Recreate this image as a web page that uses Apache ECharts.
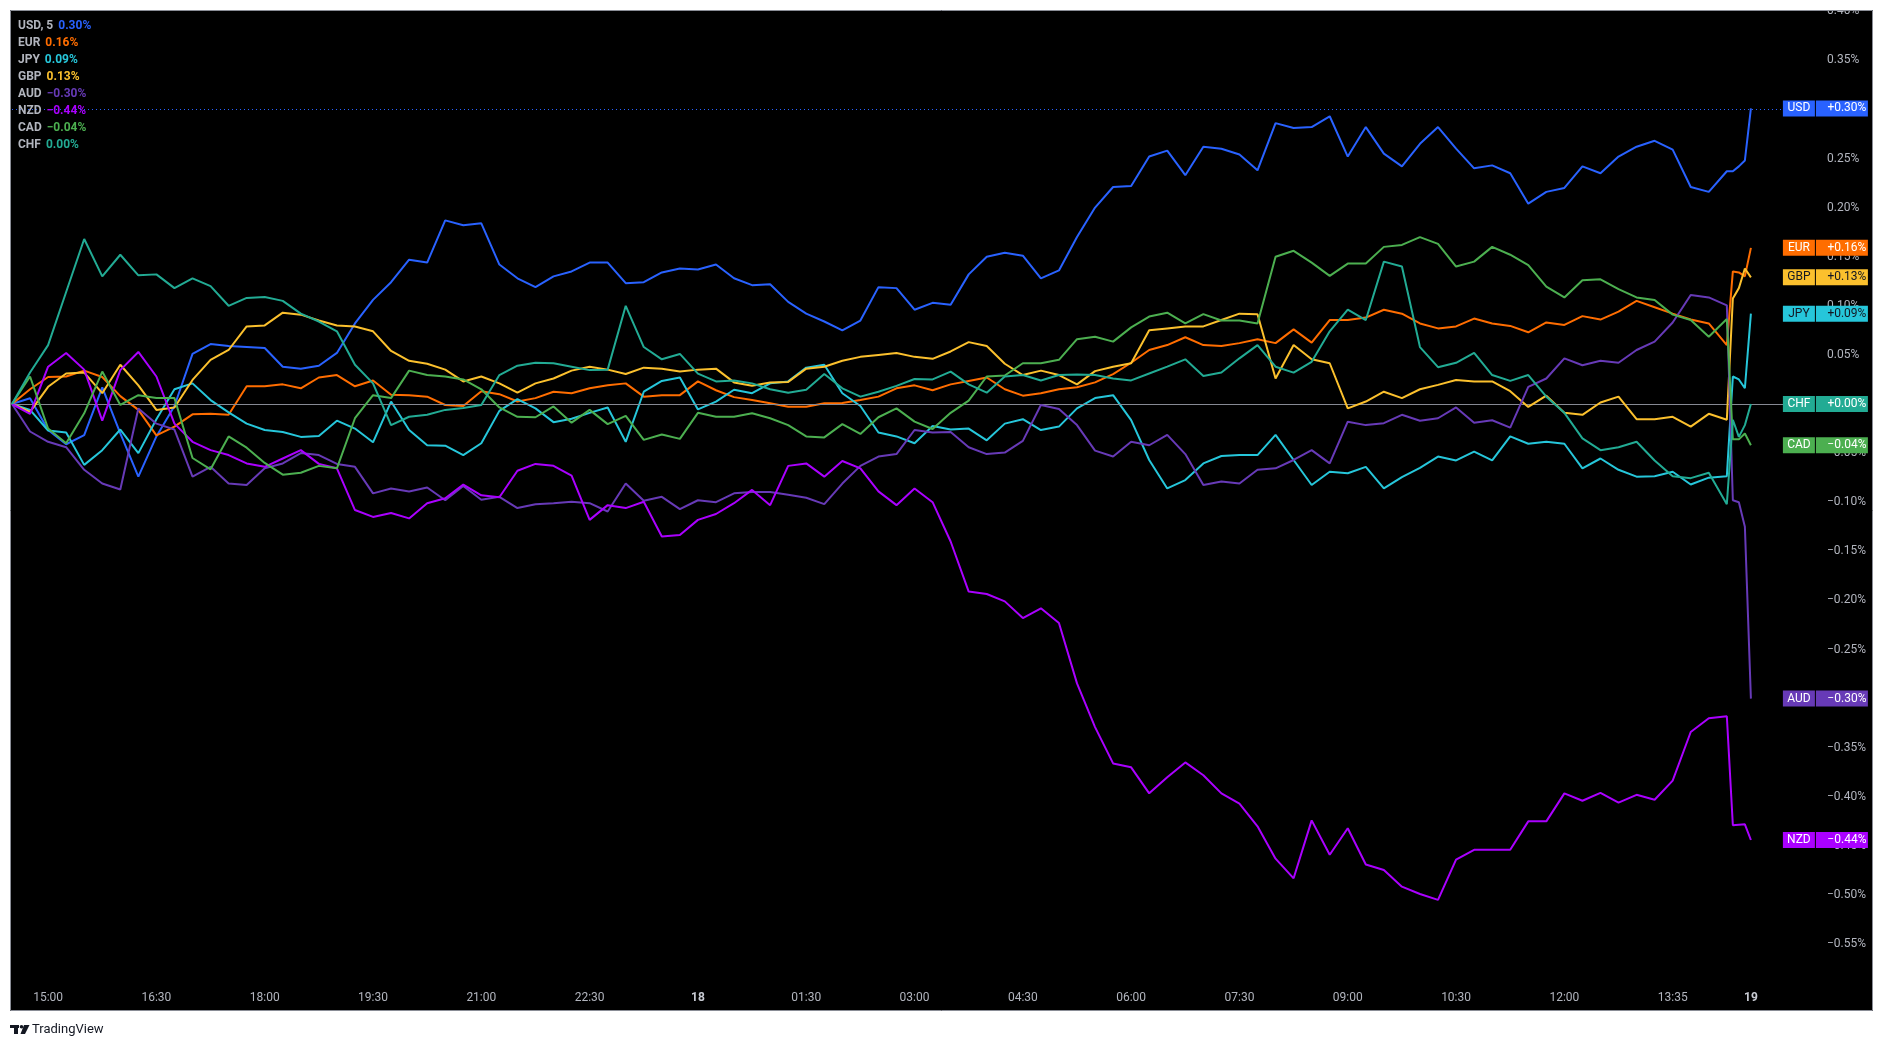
<!DOCTYPE html>
<html>
<head>
<meta charset="utf-8">
<title>Currency strength comparison</title>
<script src="https://cdn.jsdelivr.net/npm/echarts@6/dist/echarts.min.js"></script>
<style>
html,body{margin:0;padding:0;background:#ffffff;}
#chart{width:1884px;height:1047px;}
</style>
</head>
<body>
<div id="chart"></div>
<script>
// ---- time axis: 5-minute bar index of each sample (one sample per 15 min, last 4 bars after the gap) ----
const sampleBars = [];
for (let b = 0; b <= 285; b += 3) sampleBars.push(b);
sampleBars.push(286, 287, 288, 289);

// tick labels of the time axis and the bar index where they sit
const tickBars   = [6, 24, 42, 60, 78, 96, 114, 132, 150, 168, 186, 204, 222, 240, 258, 276, 289];
const tickLabels = ['15:00','16:30','18:00','19:30','21:00','22:30','18','01:30','03:00','04:30','06:00','07:30','09:00','10:30','12:00','13:35','19'];
const dayLabels  = ['18','19'];

// ---- series values, % change ----
const USD = [0,0.0058,-0.0265,-0.041,-0.0316,0.017,-0.03,-0.074,-0.033,-0.002,0.051,0.061,0.059,0.058,0.057,0.038,0.036,0.039,0.052,0.082,0.106,0.124,0.147,0.144,0.187,0.182,0.184,
  0.142,0.128,0.119,0.13,0.135,0.144,0.144,0.123,0.124,0.134,0.138,0.137,0.142,0.128,0.121,0.122,0.104,0.092,0.084,0.075,0.085,0.119,0.118,0.096,0.103,0.101,
  0.132,0.15,0.154,0.151,0.128,0.136,0.17,0.2,0.221,0.222,0.252,0.258,0.233,0.262,0.26,0.254,0.238,0.286,0.281,0.282,0.293,0.252,0.282,0.255,0.242,0.265,
  0.282,0.26,0.24,0.243,0.235,0.204,0.216,0.22,0.242,0.235,0.252,0.262,0.268,0.259,0.221,0.216,0.237,
  0.237,0.242,0.248,0.301];
const EUR = [0,0.015,0.0275,0.028,0.034,0.0275,0.008,-0.006,-0.032,-0.023,-0.0105,-0.01,-0.011,0.018,0.018,0.02,0.016,0.027,0.0295,0.018,0.024,0.0095,0.009,0.0075,-0.001,-0.002,0.013,
  0.01,0.0025,0.006,0.0125,0.011,0.016,0.019,0.021,0.0075,0.009,0.009,0.023,0.014,0.007,0.004,0.0007,-0.0027,-0.0027,0.0007,0.001,0.004,0.0075,0.016,0.019,0.014,0.02,
  0.0235,0.027,0.015,0.0085,0.011,0.015,0.017,0.022,0.0305,0.042,0.055,0.06,0.068,0.06,0.059,0.062,0.066,0.062,0.076,0.0625,0.0855,0.0855,0.088,0.096,0.092,0.082,
  0.077,0.079,0.087,0.082,0.0795,0.073,0.083,0.0805,0.0895,0.086,0.094,0.105,0.0985,0.092,0.086,0.082,0.06,
  0.135,0.134,0.13,0.159];
const JPY = [0,-0.006,-0.027,-0.029,-0.062,-0.047,-0.026,-0.05,-0.0155,0.015,0.021,0.004,-0.0085,-0.02,-0.0265,-0.0285,-0.0335,-0.0325,-0.017,-0.025,-0.039,0.0025,-0.0265,-0.042,-0.0425,-0.052,-0.04,
  -0.007,0.005,-0.0045,-0.0185,-0.015,-0.009,-0.0035,-0.0385,0.0125,0.0235,0.027,-0.0055,0.0025,0.0145,0.011,0.021,0.023,0.037,0.04,0.011,-0.002,-0.029,-0.033,-0.04,-0.0225,-0.026,
  -0.025,-0.037,-0.02,-0.0155,-0.0265,-0.023,-0.0045,0.006,0.009,-0.0165,-0.057,-0.086,-0.0775,-0.0605,-0.053,-0.052,-0.052,-0.0315,-0.057,-0.0825,-0.069,-0.0705,-0.064,-0.086,-0.0745,-0.065,
  -0.0535,-0.0575,-0.0485,-0.0575,-0.033,-0.0405,-0.0385,-0.0405,-0.0655,-0.0555,-0.067,-0.074,-0.0735,-0.069,-0.082,-0.075,-0.0735,
  0.028,0.025,0.016,0.092];
const GBP = [0,-0.008,0.0175,0.031,0.032,0.011,0.04,0.019,-0.006,-0.0035,0.0245,0.045,0.055,0.079,0.08,0.093,0.091,0.085,0.08,0.079,0.074,0.054,0.044,0.041,0.035,0.023,0.028,
  0.021,0.0115,0.021,0.026,0.034,0.038,0.035,0.0305,0.037,0.036,0.033,0.035,0.036,0.022,0.0185,0.022,0.0225,0.036,0.038,0.044,0.048,0.05,0.052,0.048,0.046,0.0535,
  0.063,0.059,0.041,0.0295,0.034,0.0295,0.02,0.0335,0.038,0.0415,0.075,0.077,0.079,0.079,0.0855,0.092,0.0915,0.026,0.06,0.0455,0.0415,-0.0045,0.0025,0.0125,0.006,0.015,
  0.0195,0.0245,0.023,0.023,0.013,-0.003,0.0085,-0.009,-0.011,0.0015,0.0075,-0.0155,-0.0155,-0.013,-0.023,-0.01,-0.016,
  0.1075,0.118,0.138,0.129];
const AUD = [0,-0.028,-0.0385,-0.044,-0.067,-0.081,-0.087,-0.0045,-0.02,-0.026,-0.074,-0.064,-0.081,-0.0825,-0.0655,-0.0605,-0.05,-0.052,-0.061,-0.064,-0.091,-0.086,-0.089,-0.085,-0.098,-0.0835,-0.0975,
  -0.0945,-0.106,-0.102,-0.101,-0.0995,-0.101,-0.1095,-0.081,-0.0985,-0.0945,-0.107,-0.098,-0.1,-0.091,-0.0895,-0.0895,-0.0925,-0.0955,-0.102,-0.081,-0.063,-0.0535,-0.051,-0.0265,-0.029,-0.0285,
  -0.044,-0.051,-0.0495,-0.0375,-0.001,-0.005,-0.0215,-0.0475,-0.0535,-0.0385,-0.042,-0.0315,-0.051,-0.0825,-0.079,-0.081,-0.067,-0.0655,-0.057,-0.047,-0.0605,-0.018,-0.0215,-0.0195,-0.011,-0.017,
  -0.0145,-0.0035,-0.019,-0.0165,-0.024,0.0175,0.026,0.0465,0.0395,0.044,0.042,0.055,0.0635,0.083,0.111,0.1085,0.1005,
  -0.098,-0.1,-0.125,-0.3];
const NZD = [0,-0.01,0.038,0.052,0.035,-0.017,0.0345,0.053,0.028,-0.02,-0.0385,-0.047,-0.052,-0.0605,-0.064,-0.0555,-0.047,-0.061,-0.0655,-0.108,-0.115,-0.111,-0.1165,-0.101,-0.096,-0.082,-0.093,
  -0.095,-0.068,-0.061,-0.063,-0.073,-0.118,-0.103,-0.106,-0.0995,-0.135,-0.1335,-0.118,-0.112,-0.101,-0.0875,-0.103,-0.063,-0.0605,-0.074,-0.058,-0.0655,-0.089,-0.103,-0.086,-0.1,-0.14,
  -0.191,-0.1935,-0.201,-0.218,-0.208,-0.223,-0.2845,-0.329,-0.366,-0.37,-0.3965,-0.38,-0.365,-0.378,-0.3965,-0.407,-0.43,-0.463,-0.483,-0.424,-0.459,-0.432,-0.469,-0.4745,-0.4915,-0.499,
  -0.505,-0.464,-0.454,-0.454,-0.454,-0.425,-0.425,-0.3965,-0.404,-0.396,-0.406,-0.398,-0.403,-0.3835,-0.334,-0.32,-0.318,
  -0.429,-0.4285,-0.428,-0.444];
const CAD = [0,0.028,-0.025,-0.04,-0.0095,0.033,-0.001,0.009,0.006,0.006,-0.055,-0.0665,-0.033,-0.0445,-0.06,-0.072,-0.07,-0.063,-0.0655,-0.0145,0.009,0.006,0.034,0.0295,0.028,0.025,0.015,
  -0.0035,-0.013,-0.0135,-0.0025,-0.019,-0.006,-0.0205,-0.012,-0.0365,-0.031,-0.0355,-0.009,-0.013,-0.013,-0.0095,-0.0145,-0.0215,-0.033,-0.034,-0.0205,-0.0305,-0.0135,-0.0045,-0.018,-0.0255,-0.009,
  0.0035,0.028,0.029,0.0415,0.0415,0.045,0.066,0.0685,0.0635,0.078,0.089,0.093,0.082,0.0915,0.085,0.085,0.082,0.15,0.156,0.144,0.1305,0.143,0.143,0.16,0.162,0.17,
  0.163,0.14,0.145,0.16,0.152,0.1415,0.1195,0.1085,0.126,0.127,0.117,0.1085,0.106,0.091,0.0855,0.0685,0.0865,
  -0.036,-0.036,-0.03,-0.042];
const CHF = [0,0.032,0.06,0.114,0.168,0.13,0.152,0.131,0.132,0.118,0.128,0.12,0.1,0.108,0.109,0.105,0.092,0.084,0.074,0.04,0.021,-0.0215,-0.013,-0.011,-0.006,-0.004,-0.001,
  0.0295,0.039,0.042,0.0415,0.038,0.0345,0.035,0.1,0.058,0.0455,0.051,0.031,0.023,0.024,0.021,0.015,0.0115,0.0145,0.0305,0.016,0.0075,0.0125,0.0185,0.0255,0.025,0.033,
  0.02,0.0115,0.028,0.0295,0.024,0.0295,0.03,0.0295,0.026,0.024,0.031,0.038,0.0455,0.0285,0.032,0.0465,0.06,0.038,0.032,0.043,0.074,0.096,0.0855,0.145,0.14,0.058,
  0.0375,0.042,0.052,0.0295,0.0235,0.0295,0.0075,-0.009,-0.035,-0.047,-0.044,-0.0385,-0.0575,-0.0735,-0.0755,-0.07,-0.102,
  -0.016,-0.0335,-0.0215,0];

const seriesNames  = ['USD','EUR','JPY','GBP','AUD','NZD','CAD','CHF'];
const seriesValues = [USD, EUR, JPY, GBP, AUD, NZD, CAD, CHF];
const seriesColors = ['#2962ff','#ff6d00','#26c6da','#fbc02d','#673ab7','#aa00ff','#4caf50','#22ab94'];
const badgeText    = ['#ffffff','#ffffff','#131722','#131722','#ffffff','#ffffff','#ffffff','#ffffff'];

const FONT = 'Roboto, "Noto Sans", "DejaVu Sans", sans-serif';

function pct(v, withPlus) {
  const r = Math.round(v * 100) / 100;
  const a = Math.abs(r).toFixed(2);
  if (Math.abs(r) < 1e-9) return (withPlus ? '+' : '') + '0.00%';
  return (r < 0 ? '\u2212' : (withPlus ? '+' : '')) + a + '%';
}

// ---- legend block (top-left) ----
const legendRich = { n: { color: '#b2b5be', fontSize: 12, fontFamily: FONT, lineHeight: 17, padding: [0, 5, 0, 0] } };
const legendLines = seriesNames.map((name, k) => {
  const vals = seriesValues[k];
  legendRich['v' + k] = { color: seriesColors[k], fontSize: 12, fontFamily: FONT, lineHeight: 17 };
  return '{n|' + name + (k === 0 ? ', 5' : '') + '}{v' + k + '|' + pct(vals[vals.length - 1], false) + '}';
});

// ---- series ----
const series = seriesNames.map((name, k) => {
  const vals = seriesValues[k];
  const last = vals[vals.length - 1];
  const s = {
    name: name,
    type: 'line',
    data: sampleBars.map((b, j) => [b, vals[j]]),
    showSymbol: false,
    symbol: 'none',
    lineStyle: { color: seriesColors[k], width: 2 },
    itemStyle: { color: seriesColors[k] },
    emphasis: { disabled: true },
    z: 2 + k,
    endLabel: {
      show: true,
      distance: 32,
      formatter: '{n|' + name + '}{s|}{v|' + pct(last, true) + '}',
      rich: {
        n: { backgroundColor: seriesColors[k], color: badgeText[k], width: 32, height: 16, lineHeight: 16, align: 'center', fontSize: 12, fontFamily: FONT },
        s: { width: 1, height: 16 },
        v: { backgroundColor: seriesColors[k], color: badgeText[k], width: 42, height: 16, lineHeight: 16, align: 'left', padding: [0, 0, 0, 10], fontSize: 12, fontFamily: FONT }
      }
    }
  };
  if (k === 0) {
    s.markLine = {
      silent: true, symbol: 'none', animation: false, label: { show: false },
      data: [
        { yAxis: 0, lineStyle: { color: '#868993', width: 1, type: 'solid' } },
        { yAxis: last, lineStyle: { color: '#2962ff', width: 1, type: [1, 3] } }
      ]
    };
  }
  return s;
});

const chart = echarts.init(document.getElementById('chart'));
chart.setOption({
  backgroundColor: '#000000',
  animation: false,
  title: {
    left: 18, top: 17, padding: 0,
    text: legendLines.join('\n'),
    textStyle: { rich: legendRich, lineHeight: 17, fontSize: 12, fontFamily: FONT, color: '#b2b5be' }
  },
  grid: { left: 12, right: 97, top: 11.2, bottom: 53.8, containLabel: false },
  xAxis: {
    type: 'value', min: 0, max: 295,
    axisLine: { show: false }, axisTick: { show: false }, splitLine: { show: false },
    axisLabel: {
      customValues: tickBars,
      margin: -1,
      color: '#b2b5be', fontSize: 12, fontFamily: FONT,
      formatter: function (v) {
        const t = tickLabels[tickBars.indexOf(v)];
        if (t === undefined) return '';
        return dayLabels.indexOf(t) >= 0 ? '{d|' + t + '}' : t;
      },
      rich: { d: { color: '#c8cbd3', fontWeight: 'bold', fontSize: 12, fontFamily: FONT } }
    }
  },
  yAxis: {
    type: 'value', position: 'right', min: -0.6, max: 0.4, interval: 0.05,
    axisLine: { show: false }, axisTick: { show: false }, splitLine: { show: false },
    axisLabel: {
      align: 'left', margin: 40, showMinLabel: false,
      color: '#b2b5be', fontSize: 12, fontFamily: FONT,
      formatter: function (v) { return pct(v, false); }
    }
  },
  series: series,
  graphic: [
    { type: 'rect', z: 100, silent: true, shape: { x: 0, y: 0, width: 1884, height: 10 }, style: { fill: '#ffffff' } },
    { type: 'rect', z: 100, silent: true, shape: { x: 0, y: 0, width: 10, height: 1047 }, style: { fill: '#ffffff' } },
    { type: 'rect', z: 100, silent: true, shape: { x: 1873, y: 0, width: 11, height: 1047 }, style: { fill: '#ffffff' } },
    { type: 'rect', z: 100, silent: true, shape: { x: 0, y: 1011, width: 1884, height: 36 }, style: { fill: '#ffffff' } },
    { type: 'rect', z: 101, silent: true, shape: { x: 10.5, y: 10.5, width: 1862, height: 1000 }, style: { fill: 'none', stroke: '#8a8d96', lineWidth: 1 } },
    // TradingView footer mark
    { type: 'rect', z: 101, silent: true, shape: { x: 10, y: 1025, width: 9, height: 3 }, style: { fill: '#131722' } },
    { type: 'rect', z: 101, silent: true, shape: { x: 14, y: 1025, width: 4, height: 9 }, style: { fill: '#131722' } },
    { type: 'circle', z: 101, silent: true, shape: { cx: 21.5, cy: 1026.8, r: 1.8 }, style: { fill: '#131722' } },
    { type: 'polygon', z: 101, silent: true, shape: { points: [[24, 1025], [29.5, 1025], [25, 1034], [20.5, 1034]] }, style: { fill: '#131722' } },
    { type: 'text', z: 101, silent: true, x: 32, y: 1029.5, style: { text: 'TradingView', fill: '#131722', font: '13px ' + FONT, verticalAlign: 'middle' } }
  ]
});
</script>
</body>
</html>
